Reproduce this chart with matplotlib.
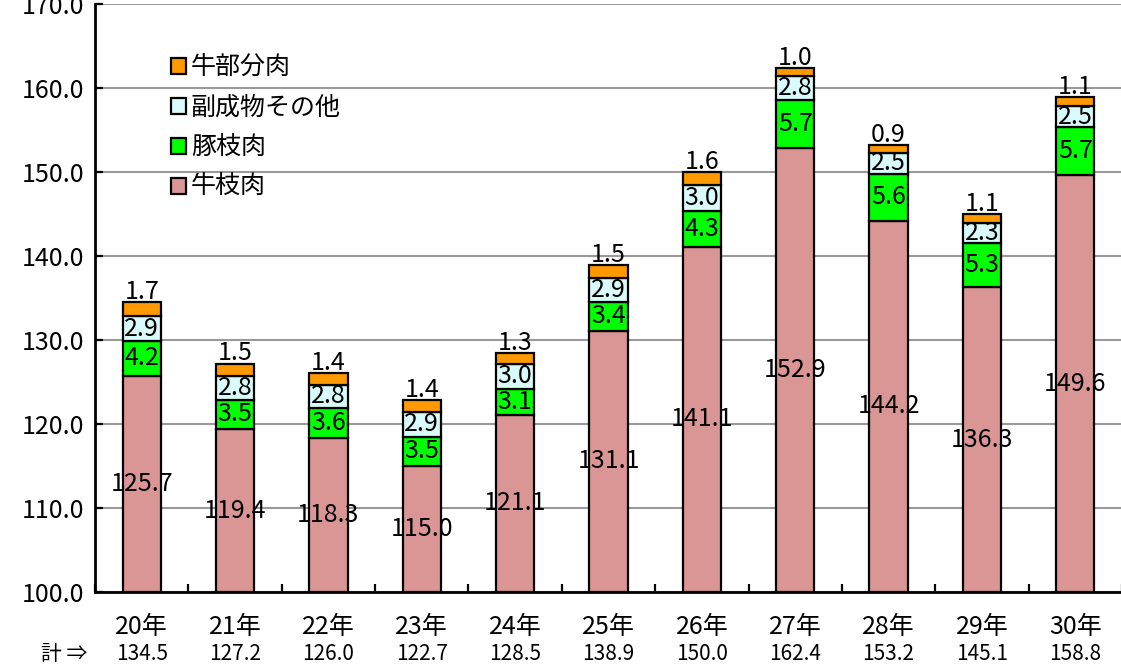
import numpy as np
import matplotlib
matplotlib.use('Agg')
import matplotlib.pyplot as plt
from matplotlib.patches import Patch

plt.rcParams['font.family'] = ['Noto Sans CJK JP', 'DejaVu Sans']

# 年次と各区分の値
years = ['20年', '21年', '22年', '23年', '24年', '25年', '26年', '27年', '28年', '29年', '30年']
gyu_edaniku = [125.7, 119.4, 118.3, 115.0, 121.1, 131.1, 141.1, 152.9, 144.2, 136.3, 149.6]
buta_edaniku = [4.2, 3.5, 3.6, 3.5, 3.1, 3.4, 4.3, 5.7, 5.6, 5.3, 5.7]
fukuseibutsu = [2.9, 2.8, 2.8, 2.9, 3.0, 2.9, 3.0, 2.8, 2.5, 2.3, 2.5]
gyu_bubun = [1.7, 1.5, 1.4, 1.4, 1.3, 1.5, 1.6, 1.0, 0.9, 1.1, 1.1]
totals = [134.5, 127.2, 126.0, 122.7, 128.5, 138.9, 150.0, 162.4, 153.2, 145.1, 158.8]

series_names = ['牛枝肉', '豚枝肉', '副成物その他', '牛部分肉']
colors = ['#D99694', '#00FF00', '#D9FAFA', '#FF9900']

fig = plt.figure(figsize=(11.21, 6.64), dpi=100)
ax = fig.add_axes([95 / 1121, 72 / 664, 1027 / 1121, 588 / 664])

x = np.arange(len(years))
width = 0.41
ymin = 100.0

# 積み上げ棒
b1 = np.array(gyu_edaniku)
b2 = b1 + np.array(buta_edaniku)
b3 = b2 + np.array(fukuseibutsu)
stack = [(gyu_edaniku, ymin), (buta_edaniku, b1), (fukuseibutsu, b2), (gyu_bubun, b3)]
for i, (vals, bottom) in enumerate(stack):
    if i == 0:
        ax.bar(x, np.array(vals) - ymin, width, bottom=ymin, color=colors[i],
               edgecolor='black', linewidth=1.6, zorder=3)
    else:
        ax.bar(x, vals, width, bottom=bottom, color=colors[i],
               edgecolor='black', linewidth=1.6, zorder=3)

# 値ラベル
lab_kw = dict(ha='center', fontsize=18, color='black', zorder=5)
for i in range(len(years)):
    ax.text(x[i], (ymin + b1[i]) / 2, f'{gyu_edaniku[i]:.1f}', va='center', **lab_kw)
    ax.text(x[i], (b1[i] + b2[i]) / 2, f'{buta_edaniku[i]:.1f}', va='center', **lab_kw)
    ax.text(x[i], (b2[i] + b3[i]) / 2, f'{fukuseibutsu[i]:.1f}', va='center', **lab_kw)
    ax.text(x[i], b3[i] + gyu_bubun[i] - 0.35, f'{gyu_bubun[i]:.1f}', va='bottom', **lab_kw)

ax.set_xlim(-0.5, len(years) - 0.5)
ax.set_ylim(100, 170)
ax.set_yticks(np.arange(100, 171, 10))
ax.set_yticklabels([f'{v:.1f}' for v in np.arange(100, 171, 10)], fontsize=18)
ax.set_xticks(np.arange(len(years) + 1) - 0.5, minor=False)
ax.set_xticklabels([])
ax.tick_params(axis='both', direction='in', length=6, width=1.6, color='black')
ax.tick_params(axis='y', pad=8)
ax.yaxis.grid(True, color='#999999', linewidth=1.5, zorder=0)
ax.set_axisbelow(True)
for s in ['top', 'right']:
    ax.spines[s].set_visible(False)
for s in ['left', 'bottom']:
    ax.spines[s].set_linewidth(2)

# 年ラベルと合計
for i in range(len(years)):
    ax.text(x[i], -0.06, years[i], transform=ax.get_xaxis_transform(),
            ha='center', va='center', fontsize=18)
    ax.text(x[i], -0.105, f'{totals[i]:.1f}', transform=ax.get_xaxis_transform(),
            ha='center', va='center', fontsize=15)
fig.text(64 / 1121, 1 - 654 / 664, '計 ⇒', ha='center', va='center', fontsize=15)

# 凡例
handles = [Patch(facecolor=colors[i], edgecolor='black', linewidth=1.6, label=series_names[i])
           for i in range(3, -1, -1)]
ax.legend(handles=handles, loc='upper left', bbox_to_anchor=(0.064, 0.93),
          frameon=False, fontsize=18, handlelength=0.6, handleheight=0.6,
          handletextpad=0.2, labelspacing=0.55, borderaxespad=0)

plt.savefig('out.png', dpi=100)
plt.close('all')
